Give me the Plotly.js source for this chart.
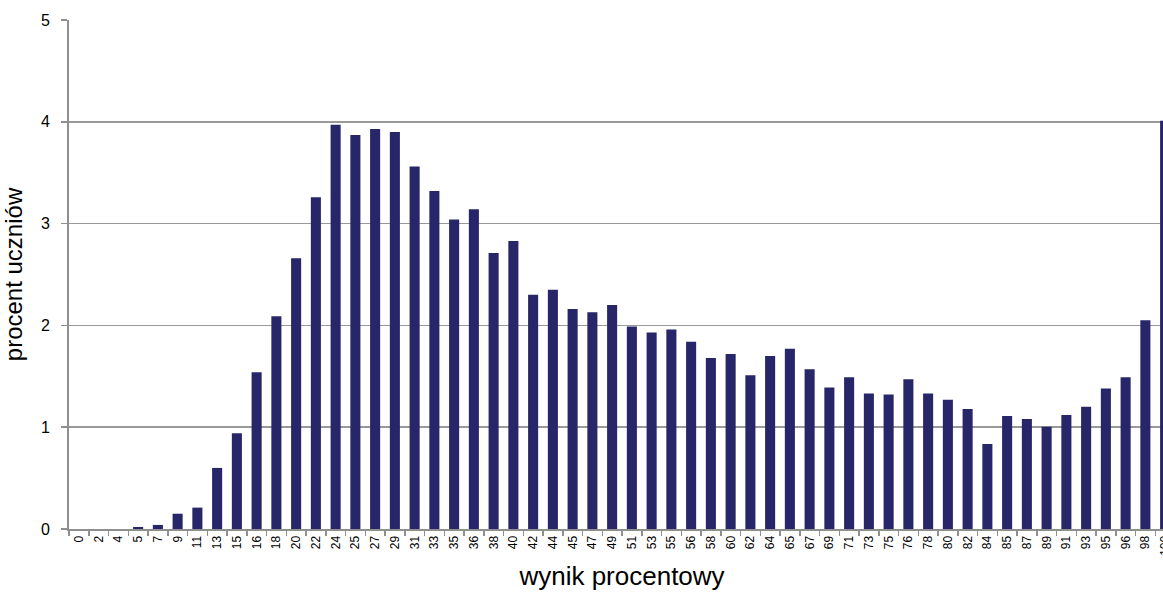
<!DOCTYPE html>
<html>
<head>
<meta charset="utf-8">
<script src="https://cdn.plot.ly/plotly-3.0.1.min.js"></script>
<style>
html,body{margin:0;padding:0;overflow:hidden;background:#fff;}
#chart{width:1175px;height:593px;}
</style>
</head>
<body>
<div id="chart"></div>
<script>
const categories = ["0","2","4","5","7","9","11","13","15","16","18","20","22","24","25","27","29","31","33","35","36","38","40","42","44","45","47","49","51","53","55","56","58","60","62","64","65","67","69","71","73","75","76","78","80","82","84","85","87","89","91","93","95","96","98","100"];
const percentStudents = [0,0,0,0.02,0.04,0.15,0.21,0.60,0.94,1.54,2.09,2.66,3.26,3.97,3.87,3.93,3.90,3.56,3.32,3.04,3.14,2.71,2.83,2.30,2.35,2.16,2.13,2.20,1.99,1.93,1.96,1.84,1.68,1.72,1.51,1.70,1.77,1.57,1.39,1.49,1.33,1.32,1.47,1.33,1.27,1.18,0.835,1.11,1.08,1.005,1.12,1.20,1.38,1.49,2.05,4.01];
const yTicks = [0,1,2,3,4,5];

const trace = {
  type: 'bar',
  x: categories,
  y: percentStudents,
  marker: {color: '#262669', line: {width: 0}},
  hoverinfo: 'x+y'
};

const layout = {
  width: 1175,
  height: 593,
  margin: {l: 69, r: 0, t: 20, b: 64},
  paper_bgcolor: '#ffffff',
  plot_bgcolor: '#ffffff',
  bargap: 0.49,
  showlegend: false,
  font: {family: 'Liberation Sans, Arial, sans-serif', color: '#000'},
  xaxis: {
    type: 'category',
    tickson: 'boundaries',
    ticks: 'outside',
    ticklen: 5,
    tickcolor: '#8f8f8f',
    tickwidth: 1.5,
    tickangle: -90,
    tickfont: {size: 12, color: '#000'},
    showline: true,
    linecolor: '#8f8f8f',
    linewidth: 2,
    showgrid: false,
    zeroline: false,
    title: {text: 'wynik procentowy', font: {size: 26, color: '#000'}, standoff: 12}
  },
  yaxis: {
    range: [0, 5],
    tickvals: yTicks,
    ticktext: yTicks.map(String),
    ticks: 'outside',
    ticklen: 6,
    tickcolor: '#8f8f8f',
    tickwidth: 1.5,
    ticklabelstandoff: 8,
    tickfont: {size: 16, color: '#000'},
    showline: true,
    linecolor: '#8f8f8f',
    linewidth: 2,
    showgrid: true,
    gridcolor: '#999999',
    gridwidth: 1.5,
    zeroline: false,
    title: {text: 'procent uczniów', font: {size: 24, color: '#000'}, standoff: 14}
  }
};

Plotly.newPlot('chart', [trace], layout, {displayModeBar: false, staticPlot: true});
</script>
</body>
</html>
